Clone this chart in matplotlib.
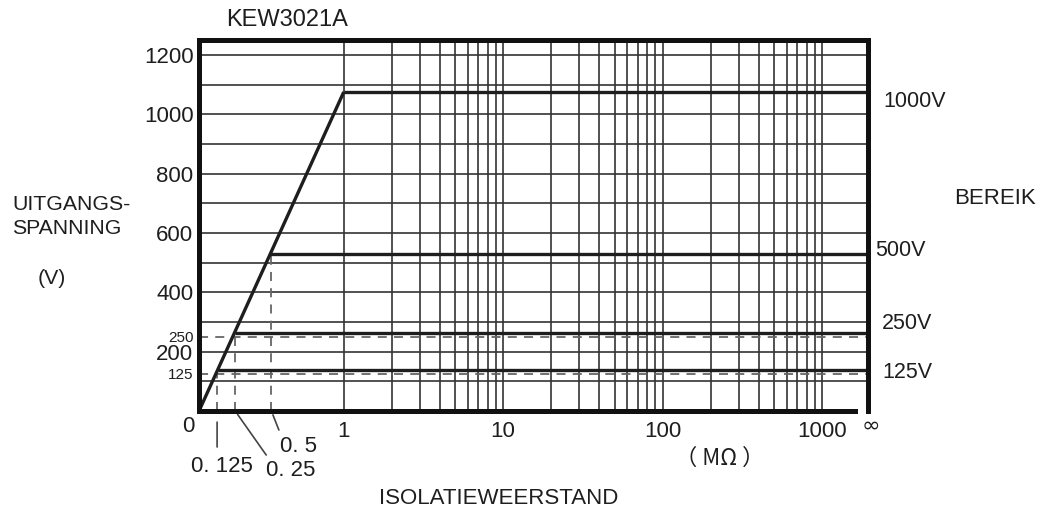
# Output voltage vs insulation resistance chart for the KEW3021A

import numpy as np
import matplotlib
matplotlib.use('Agg')
import matplotlib.pyplot as plt
from matplotlib import font_manager
from matplotlib.ticker import NullLocator

# Ranges and the output voltage each one levels off at
range_labels = ['1000V', '500V', '250V', '125V']
range_output = [1075, 529, 264, 138]
v_at_1M = 1075  # the ramp reaches this at 1 MOhm

# Dashed reference lines (nominal voltage and the resistance where it is reached)
ref_volts = [250, 125]
ref_res = [0.125, 0.25, 0.5]
ref_res_top = [125, 250, 529]
ref_res_labels = ['0. 125', '0. 25', '0. 5']

# Axis ticks
x_ticks = [1, 10, 100, 1000]
x_tick_labels = ['1', '10', '100', '1000']
y_ticks = [125, 200, 250, 400, 600, 800, 1000, 1200]
y_small = [125, 250]

# Grid
grid_y = np.arange(100, 1201, 100)
grid_x = [m * d for d in (1, 10, 100) for m in range(1, 10)] + [1000]

# x axis is linear from 0 to 1 MOhm, then logarithmic up to 1000 and infinity
K = 1.101  # width of one decade relative to the 0..1 part


def fwd(x):
    x = np.asarray(x, dtype=float)
    return np.where(x <= 1, x, 1 + K * np.log10(np.maximum(x, 1)))


def inv(u):
    u = np.asarray(u, dtype=float)
    return np.where(u <= 1, u, 10 ** ((np.minimum(u, 20) - 1) / K))


X_INF = float(inv(4.621))   # position of the infinity line
X_END = float(inv(4.531))   # where the bottom axis line stops

names = {f.name for f in font_manager.fontManager.ttflist}
num_font = 'Liberation Sans Narrow' if 'Liberation Sans Narrow' in names else 'Liberation Sans'
txt_font = 'Liberation Sans'
ink = '#1e1e1e'

fig = plt.figure(figsize=(10.44, 5.12), dpi=100)
ax = fig.add_axes([199 / 1044, 1 - 411 / 512, (868 - 199) / 1044, (411 - 40) / 512])
ax.set_xscale('function', functions=(fwd, inv))
ax.set_xlim(0, X_INF)
ax.set_ylim(0, 1250)

# grid
ax.hlines(grid_y, 0, X_INF, colors='#333333', lw=1.2, zorder=1)
ax.vlines(grid_x, 0, 1250, colors='#333333', lw=1.2, zorder=1)

# dashed references
ax.hlines(ref_volts, 0, X_INF, colors='#666666', lw=1.3, linestyles=(0, (5, 4)), zorder=2)
ax.vlines(ref_res, 0, ref_res_top, colors='#666666', lw=1.3, linestyles=(0, (5, 4)), zorder=2)

# ramp and range lines
ax.plot([0, 1], [0, v_at_1M], color=ink, lw=2.4, zorder=3, solid_capstyle='butt')
for v in range_output:
    ax.plot([v / v_at_1M, X_INF], [v, v], color=ink, lw=2.4, zorder=3, solid_capstyle='butt')

for s in ax.spines.values():
    s.set_linewidth(3.6)
    s.set_color('#111111')
    s.set_zorder(4)
ax.spines['bottom'].set_bounds(0, X_END)

# ticks
ax.set_xticks(x_ticks, labels=x_tick_labels)
ax.xaxis.set_minor_locator(NullLocator())
ax.set_yticks(y_ticks, labels=[str(v) for v in y_ticks])
ax.yaxis.set_minor_locator(NullLocator())
ax.tick_params(axis='x', length=0, pad=7, labelsize=16, labelcolor=ink)
ax.tick_params(axis='y', length=0, pad=4, labelsize=16, labelcolor=ink)
for lab in ax.get_xticklabels() + ax.get_yticklabels():
    lab.set_fontfamily(num_font)
for v, lab in zip(y_ticks, ax.get_yticklabels()):
    if v in y_small:
        lab.set_fontsize(11)

ax.annotate('0', xy=(0, 0), xytext=(-11, -16), textcoords='offset pixels',
            ha='center', va='center', fontsize=16, family=num_font, color=ink)
ax.annotate('\u221e', xy=(X_INF, 0), xytext=(3, -15), textcoords='offset pixels',
            ha='center', va='center', fontsize=16, family='DejaVu Sans', color=ink)

# leader lines and labels for the resistances on the ramp
line_ends = [(0, -36), (31, -44), (7.5, -19)]
line_shrink = [8, 3, 3]
label_offsets = [(5, -56), (55, -60), (27, -35)]
for r, lab, end, sh, off in zip(ref_res, ref_res_labels, line_ends, line_shrink, label_offsets):
    ax.annotate('', xy=(r, 0), xytext=end, textcoords='offset pixels',
                arrowprops=dict(arrowstyle='-', color='#444444', lw=1.2, shrinkA=0, shrinkB=sh),
                annotation_clip=False)
    ax.annotate(lab, xy=(r, 0), xytext=off, textcoords='offset pixels',
                ha='center', va='center', fontsize=16, family=num_font, color=ink,
                annotation_clip=False)

# range labels on the right
range_offsets = [(15, -10), (7, 3), (14, 9), (14, -2)]
for lab, v, off in zip(range_labels, range_output, range_offsets):
    ax.annotate(lab, xy=(X_INF, v), xytext=off, textcoords='offset pixels',
                ha='left', va='center', fontsize=15.5, family=txt_font, color=ink,
                annotation_clip=False)

ax.annotate('\uff08 M\u03a9 \uff09', xy=(100, 0), xytext=(57, -47), textcoords='offset pixels',
            ha='center', va='center', fontsize=16,
            family=['Noto Sans CJK JP', 'DejaVu Sans'], color=ink, annotation_clip=False)


def ftext(x, y, s, **kw):
    fig.text(x / 1044, 1 - y / 512, s, family=txt_font, color=ink, va='center', **kw)


ftext(226, 20, 'KEW3021A', fontsize=17, ha='left')
ftext(12, 205, 'UITGANGS-', fontsize=15.3, ha='left')
ftext(12, 229, 'SPANNING', fontsize=15.3, ha='left')
ftext(52, 278, '(V)', fontsize=15.3, ha='center')
ftext(954, 199, 'BEREIK', fontsize=16, ha='left')
ftext(499, 498, 'ISOLATIEWEERSTAND', fontsize=16, ha='center')

plt.savefig('out.png', dpi=100)
